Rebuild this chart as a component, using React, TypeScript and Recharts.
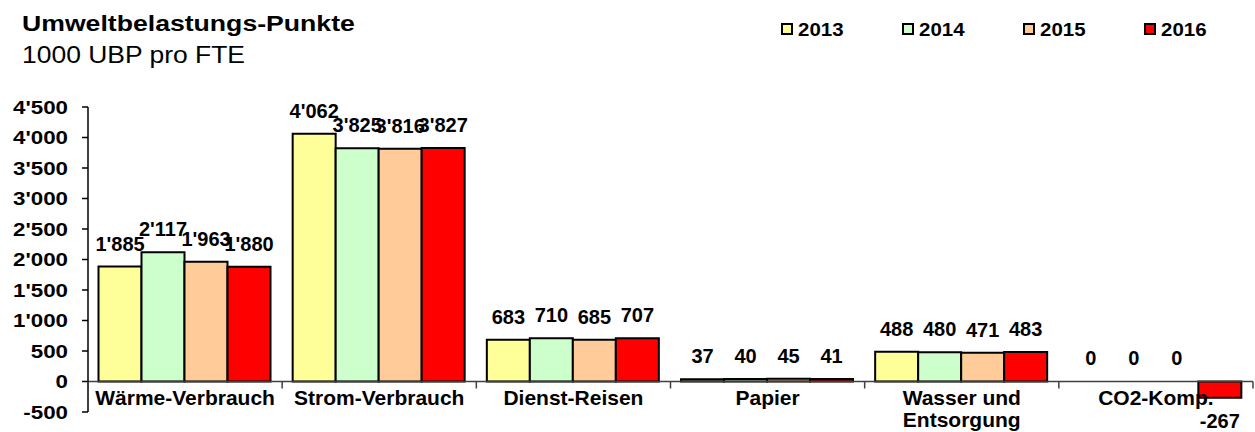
import React from "react";
import { BarChart, Bar, XAxis, YAxis, LabelList, ReferenceLine, Legend, Cell } from "recharts";

const categories = ["Wärme-Verbrauch", "Strom-Verbrauch", "Dienst-Reisen", "Papier", "Wasser und\nEntsorgung", "CO2-Komp."];
const years = ["2013", "2014", "2015", "2016"];
const v2013 = [1885, 4062, 683, 37, 488, 0];
const v2014 = [2117, 3825, 710, 40, 480, 0];
const v2015 = [1963, 3816, 685, 45, 471, 0];
const v2016 = [1880, 3827, 707, 41, 483, -267];
const seriesValues = [v2013, v2014, v2015, v2016];
const colors = ["#FFFF99", "#CCFFCC", "#FFCC99", "#FF0000"];
const yTicks = [-500, 0, 500, 1000, 1500, 2000, 2500, 3000, 3500, 4000, 4500];
const title = "Umweltbelastungs-Punkte";
const subtitle = "1000 UBP pro FTE";

const data = categories.map((cat, i) => {
  const row: any = { cat };
  years.forEach((y, s) => {
    row[y] = seriesValues[s][i];
  });
  return row;
});

const W = 1255;
const H = 432;
const MARGIN = { top: 107, right: 2, left: 0, bottom: 19 };
const YAXIS_W = 88;
const XAXIS_H = 1;
const Y_MIN = yTicks[0];
const Y_MAX = yTicks[yTicks.length - 1];
const PLOT_H = H - MARGIN.top - MARGIN.bottom - XAXIS_H;
const ZERO_Y = MARGIN.top + (PLOT_H * (Y_MAX - 0)) / (Y_MAX - Y_MIN);
const BAND = (W - MARGIN.left - MARGIN.right - YAXIS_W) / categories.length;
const FONT = "'Liberation Sans', Arial, Helvetica, sans-serif";

const fmt = (n: number) => {
  const s = String(Math.abs(Math.round(n))).replace(/\B(?=(\d{3})+(?!\d))/g, "'");
  return n < 0 ? "-" + s : s;
};

const YTick = (props: any) => {
  const { x, y, payload } = props;
  return (
    <text
      transform={`translate(${x},${y}) scale(1.2,1)`}
      textAnchor="end"
      dy="0.36em"
      fontSize={18.6}
      fontWeight="bold"
      fontFamily={FONT}
      fill="#000"
    >
      {fmt(payload.value)}
    </text>
  );
};

const XTick = (props: any) => {
  const { x, payload, index } = props;
  const lines = String(payload.value).split("\n");
  const isLast = index === categories.length - 1;
  return (
    <g>
      <line x1={x - BAND / 2} x2={x - BAND / 2} y1={ZERO_Y} y2={ZERO_Y + 7} stroke="#404040" strokeWidth={1.5} />
      {isLast && (
        <line x1={x + BAND / 2} x2={x + BAND / 2} y1={ZERO_Y} y2={ZERO_Y + 7} stroke="#404040" strokeWidth={1.5} />
      )}
      {lines.map((ln, i) => (
        <text
          key={i}
          x={x}
          y={ZERO_Y + 23.5 + i * 22}
          textAnchor="middle"
          fontSize={21}
          fontWeight="bold"
          fontFamily={FONT}
          fill="#000"
        >
          {ln}
        </text>
      ))}
    </g>
  );
};

const LegendContent = () => (
  <div style={{ position: "relative", width: W, height: 50 }}>
    {years.map((y, i) => (
      <div key={y} style={{ position: "absolute", left: 781 + i * 121, top: 0 }}>
        <div
          style={{
            position: "absolute",
            left: 0,
            top: 23,
            width: 12,
            height: 12,
            boxSizing: "border-box",
            border: "2px solid #000",
            background: colors[i],
          }}
        />
        <div
          style={{
            position: "absolute",
            left: 17,
            top: 21,
            fontSize: 18.6,
            lineHeight: "18.6px",
            fontWeight: "bold",
            fontFamily: FONT,
            color: "#000",
            whiteSpace: "nowrap",
            transform: "scaleX(1.1)",
            transformOrigin: "0 0",
          }}
        >
          {y}
        </div>
      </div>
    ))}
  </div>
);

export default function App() {
  return (
    <div
      style={{
        position: "absolute",
        left: 0,
        top: 0,
        width: W,
        height: H,
        background: "#fff",
        fontFamily: FONT,
      }}
    >
      <div
        style={{
          position: "absolute",
          left: 22,
          top: 13.4,
          fontSize: 22,
          lineHeight: "22px",
          fontWeight: "bold",
          color: "#000",
          whiteSpace: "nowrap",
          transform: "scaleX(1.21)",
          transformOrigin: "0 0",
          zIndex: 2,
        }}
      >
        {title}
      </div>
      <div
        style={{
          position: "absolute",
          left: 22,
          top: 43.5,
          fontSize: 23,
          lineHeight: "23px",
          color: "#000",
          whiteSpace: "nowrap",
          transform: "scaleX(1.15)",
          transformOrigin: "0 0",
          zIndex: 2,
        }}
      >
        {subtitle}
      </div>
      <BarChart
        width={W}
        height={H}
        data={data}
        margin={MARGIN}
        barGap={0}
        barCategoryGap={10.5}
      >
        <XAxis
          dataKey="cat"
          axisLine={false}
          tickLine={false}
          tick={<XTick />}
          interval={0}
          height={XAXIS_H}
        />
        <YAxis
          type="number"
          domain={[Y_MIN, Y_MAX]}
          ticks={yTicks}
          interval={0}
          width={YAXIS_W}
          tick={<YTick />}
          tickSize={6}
          tickMargin={14}
          axisLine={{ stroke: "#000", strokeWidth: 1.5 }}
          tickLine={{ stroke: "#000", strokeWidth: 1.5 }}
        />
        <ReferenceLine y={0} stroke="#404040" strokeWidth={1.5} />
        <Legend
          layout="horizontal"
          verticalAlign="middle"
          align="center"
          wrapperStyle={{ top: 0, left: 0, width: W, height: 50 }}
          content={<LegendContent />}
        />
        {years.map((y, i) => (
          <Bar
            key={y}
            dataKey={y}
            fill={colors[i]}
            stroke="#000"
            strokeWidth={2}
            minPointSize={1}
            isAnimationActive={false}
          >
            {seriesValues[i].map((v, j) => (
              <Cell
                key={j}
                fill={v === 0 ? "none" : colors[i]}
                stroke={v === 0 ? "none" : "#000"}
              />
            ))}
            <LabelList
              dataKey={y}
              position="top"
              offset={16}
              formatter={(v: any) => fmt(Number(v))}
              style={{ fontSize: 20, fontWeight: "bold", fontFamily: FONT, fill: "#000" }}
            />
          </Bar>
        ))}
      </BarChart>
    </div>
  );
}
